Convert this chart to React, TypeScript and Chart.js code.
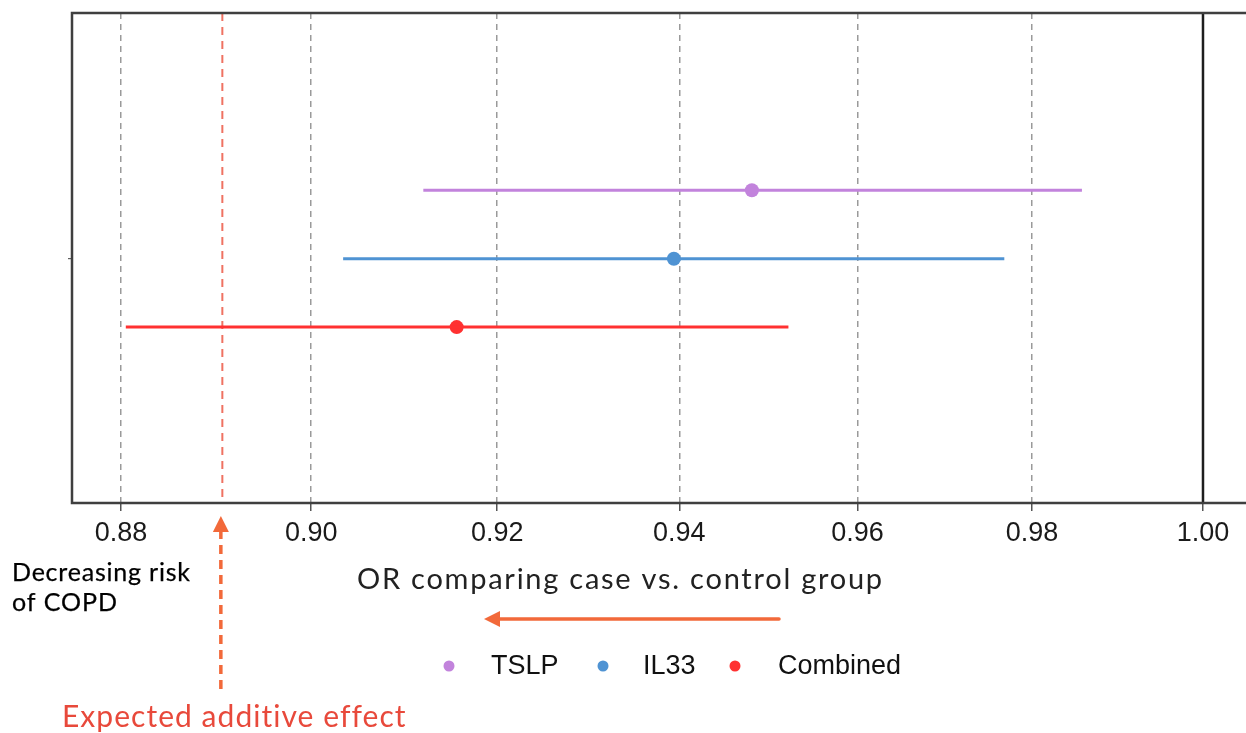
import React, { useEffect, useRef } from "react";
import { Chart, registerables } from "chart.js";

Chart.register(...registerables);

const categories = ["TSLP", "IL33", "Combined"];
const estimates = [0.9481, 0.9394, 0.9156];
const lowerCI = [0.912, 0.9034, 0.8805];
const upperCI = [0.9858, 0.9768, 0.9522];
const rowPositions = [1, 0, -1];
const seriesColors = ["#c283dc", "#4f93d3", "#ff3131"];
const xTickValues = [0.88, 0.9, 0.92, 0.94, 0.96, 0.98, 1.0];
const expectedAdditive = 0.8906;
const referenceOR = 1.0;
const xMin = 0.87492;
const xMax = 1.00914;
const yMin = -3.57;
const yMax = 3.59;

const xTitle = "OR comparing case vs. control group";
const leftNote = ["Decreasing risk", "of COPD"];
const bottomNote = "Expected additive effect";

const ANNOT_FONT = "Lato, 'Noto Sans', sans-serif";
const TICK_FONT = "'Liberation Sans', Arial, sans-serif";

function arrowHead(ctx: CanvasRenderingContext2D, tipX: number, tipY: number, dir: "up" | "left", len: number, half: number) {
  ctx.beginPath();
  if (dir === "up") {
    ctx.moveTo(tipX, tipY);
    ctx.lineTo(tipX - half, tipY + len);
    ctx.lineTo(tipX + half, tipY + len);
  } else {
    ctx.moveTo(tipX, tipY);
    ctx.lineTo(tipX + len, tipY - half);
    ctx.lineTo(tipX + len, tipY + half);
  }
  ctx.closePath();
  ctx.fill();
}

function spacedText(ctx: any, text: string, x: number, y: number, targetWidth: number, stroke = 0) {
  ctx.letterSpacing = "0px";
  const w = ctx.measureText(text).width;
  const ls = Math.max(0, (targetWidth - w) / Math.max(1, text.length - 1));
  ctx.letterSpacing = ls.toFixed(2) + "px";
  ctx.fillText(text, x, y);
  if (stroke > 0) {
    ctx.lineWidth = stroke;
    ctx.strokeStyle = ctx.fillStyle;
    ctx.strokeText(text, x, y);
  }
  ctx.letterSpacing = "0px";
}

const decorPlugin = {
  id: "decor",
  beforeDatasetsDraw(chart: any) {
    const { ctx, chartArea, scales } = chart;
    const x = scales.x;
    ctx.save();
    const px1 = x.getPixelForValue(referenceOR);
    ctx.strokeStyle = "#1e1e1e";
    ctx.lineWidth = 2.5;
    ctx.beginPath();
    ctx.moveTo(px1, chartArea.top);
    ctx.lineTo(px1, chartArea.bottom);
    ctx.stroke();
    const pe = x.getPixelForValue(expectedAdditive);
    ctx.strokeStyle = "#ef7262";
    ctx.lineWidth = 2;
    ctx.setLineDash([8, 6]);
    ctx.beginPath();
    ctx.moveTo(pe, chartArea.top);
    ctx.lineTo(pe, chartArea.bottom);
    ctx.stroke();
    ctx.restore();
  },
  afterDraw(chart: any) {
    const { ctx, chartArea, scales } = chart;
    const x = scales.x;
    const y = scales.y;
    ctx.save();
    ctx.strokeStyle = "#3f3f3f";
    ctx.lineWidth = 2.5;
    ctx.beginPath();
    ctx.moveTo(chartArea.right + 20, chartArea.top);
    ctx.lineTo(chartArea.left, chartArea.top);
    ctx.lineTo(chartArea.left, chartArea.bottom);
    ctx.lineTo(chartArea.right + 20, chartArea.bottom);
    ctx.stroke();
    const y0 = y.getPixelForValue(0);
    ctx.lineWidth = 1;
    ctx.beginPath();
    ctx.moveTo(chartArea.left - 4, y0);
    ctx.lineTo(chartArea.left, y0);
    ctx.stroke();

    ctx.textAlign = "left";
    ctx.textBaseline = "middle";

    ctx.fillStyle = "#222";
    ctx.font = `29px ${ANNOT_FONT}`;
    spacedText(ctx, xTitle, 357, 580, 525);

    ctx.fillStyle = "#000";
    ctx.font = `normal 400 25px ${ANNOT_FONT}`;
    spacedText(ctx, leftNote[0], 12, 573, 178, 0.25);
    spacedText(ctx, leftNote[1], 12, 603, 105, 0.25);

    ctx.fillStyle = "#e8493b";
    ctx.font = `30px ${ANNOT_FONT}`;
    spacedText(ctx, bottomNote, 62, 717, 343);

    const orange = "#f2693a";
    ctx.strokeStyle = orange;
    ctx.fillStyle = orange;
    ctx.lineWidth = 3.5;
    ctx.lineCap = "round";
    ctx.beginPath();
    ctx.moveTo(779, 619);
    ctx.lineTo(495, 619);
    ctx.stroke();
    arrowHead(ctx, 484, 619, "left", 16, 8);

    const ax = x.getPixelForValue(expectedAdditive) - 1.5;
    ctx.lineCap = "butt";
    ctx.setLineDash([9, 6]);
    ctx.beginPath();
    ctx.moveTo(ax, 689);
    ctx.lineTo(ax, 532);
    ctx.stroke();
    ctx.setLineDash([]);
    arrowHead(ctx, ax, 516, "up", 16, 8);

    const legendDotX = [449, 603, 735];
    const legendTextX = [491, 643, 778];
    const ly = 666;
    ctx.font = `27px ${TICK_FONT}`;
    categories.forEach((c, i) => {
      ctx.fillStyle = seriesColors[i];
      ctx.beginPath();
      ctx.arc(legendDotX[i], ly, 5.5, 0, Math.PI * 2);
      ctx.fill();
      ctx.fillStyle = "#111";
      ctx.fillText(c, legendTextX[i], ly + 1);
    });
    ctx.restore();
  },
};

export default function App() {
  const canvasRef = useRef<HTMLCanvasElement | null>(null);

  useEffect(() => {
    if (!canvasRef.current) return;
    const ciSets = categories.map((c, i) => ({
      label: c + " CI",
      data: [
        { x: lowerCI[i], y: rowPositions[i] },
        { x: upperCI[i], y: rowPositions[i] },
      ],
      showLine: true,
      borderColor: seriesColors[i],
      borderWidth: 3,
      pointRadius: 0,
      pointHoverRadius: 0,
    }));
    const pointSets = categories.map((c, i) => ({
      label: c,
      data: [{ x: estimates[i], y: rowPositions[i] }],
      backgroundColor: seriesColors[i],
      borderWidth: 0,
      pointRadius: 7,
    }));
    const chart = new Chart(canvasRef.current, {
      type: "scatter",
      data: { datasets: [...ciSets, ...pointSets] as any },
      options: {
        animation: false,
        responsive: true,
        maintainAspectRatio: false,
        layout: { padding: { left: 72, top: 13, right: 1300 - 1280, bottom: 0 } },
        plugins: { legend: { display: false }, tooltip: { enabled: false } },
        scales: {
          x: {
            type: "logarithmic",
            min: xMin,
            max: xMax,
            bounds: "data",
            afterBuildTicks: (scale: any) => {
              scale.ticks = xTickValues.map((v) => ({ value: v }));
            },
            afterFit: (scale: any) => {
              scale.height = 230;
            },
            ticks: {
              autoSkip: false,
              maxRotation: 0,
              padding: 6,
              color: "#1a1a1a",
              font: { family: TICK_FONT, size: 27 },
              callback: (v: any) => Number(v).toFixed(2),
            },
            grid: {
              color: (ctx: any) => (ctx.tick && Math.abs(ctx.tick.value - 1) < 1e-9 ? "rgba(0,0,0,0)" : "#9a9a9a"),
              lineWidth: 1.5,
              drawTicks: true,
              tickLength: 8,
              tickColor: "#555",
              tickWidth: 1.5,
              tickBorderDash: [],
            },
            border: { display: false, dash: [6, 5] },
          },
          y: {
            type: "linear",
            display: false,
            min: yMin,
            max: yMax,
            bounds: "data",
          },
        },
      } as any,
      plugins: [decorPlugin],
    });
    return () => chart.destroy();
  }, []);

  return (
    <div style={{ position: "fixed", left: 0, top: 0, width: 1246, height: 733, overflow: "hidden", background: "#fff" }}>
      <div style={{ position: "relative", width: 1300, height: 733 }}>
        <canvas ref={canvasRef} />
      </div>
    </div>
  );
}
